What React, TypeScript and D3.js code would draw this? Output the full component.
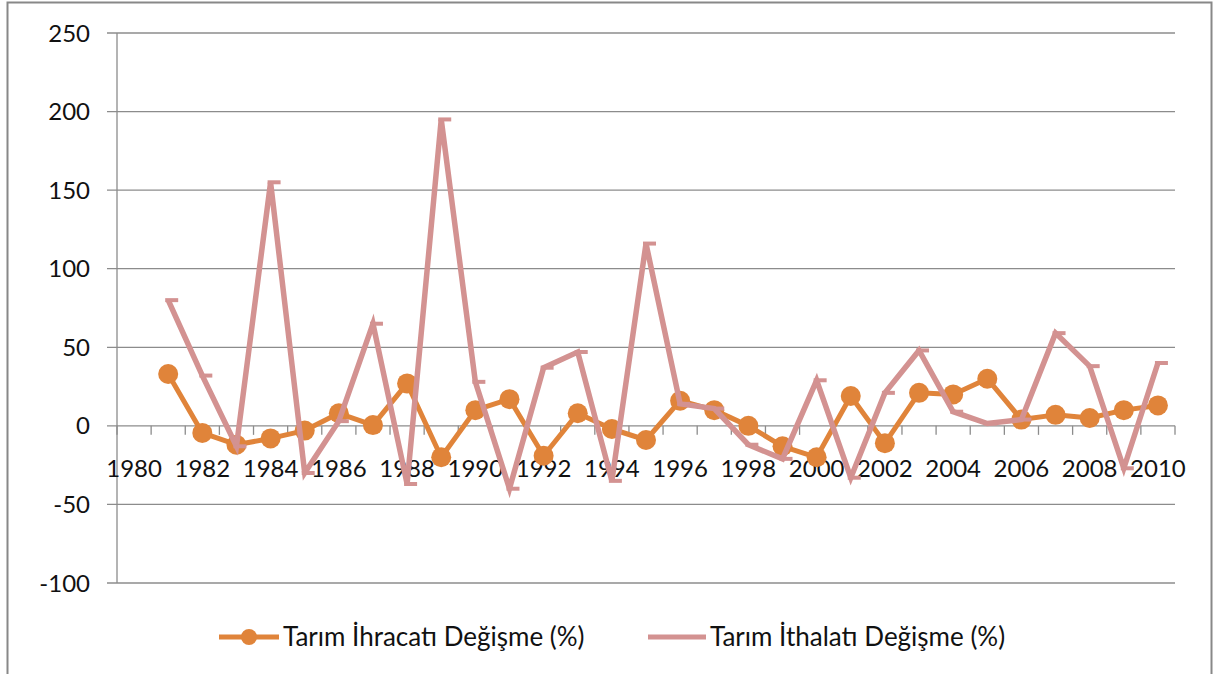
import React from 'react';
import * as d3 from 'd3';

// years on the category axis, 1980 has no values
const years = d3.range(1980, 2011).map(String);
const exportYears = years.slice(1);

const exportChange = [33, -4.5, -12, -8, -3, 8, 0.5, 27, -20, 10, 17, -19, 8, -2, -9, 16, 10, 0, -13, -20, 19, -11, 21, 20, 30, 4, 7, 5, 10, 13];
const importChange = [80, 32, -13, 155, -30, 3, 65, -37, 195, 28, -40, 37, 47, -35, 116, 14, 11, -12, -21, 29, -33, 21, 48, 9, 1.5, 4, 59, 38, -27, 40];

const yTicks = [-100, -50, 0, 50, 100, 150, 200, 250];
const seriesNames = ['Tarım İhracatı Değişme (%)', 'Tarım İthalatı Değişme (%)'];

const orange = '#E0843A';
const pink = '#D39291';
const grid = '#8C8C8C';
const font = 'Lato, "Open Sans", sans-serif';

export default function App() {
  const width = 1215;
  const height = 674;
  const left = 117, right = 1175, top = 33, bottom = 583;

  const x = d3.scaleBand().domain(years).range([left, right]);
  const y = d3.scaleLinear().domain([-100, 250]).range([bottom, top]);
  const cx = (yr: string) => (x(yr) as number) + x.bandwidth() / 2;

  const line = d3.line<number>()
    .x((_, i) => cx(exportYears[i]))
    .y(d => y(d));

  const boundaries = d3.range(years.length + 1).map(i => left + i * x.step());

  return (
    <svg width={width} height={height} style={{ position: 'absolute', left: 0, top: 0 }}>
      <rect x={7.5} y={2.5} width={1204} height={700} fill="white" stroke="#888" strokeWidth={2} />

      {yTicks.map(t => (
        <g key={t}>
          <line x1={left - 10} x2={right} y1={y(t)} y2={y(t)} stroke={grid} strokeWidth={1.3} />
          <text x={90} y={y(t)} dy="0.36em" textAnchor="end" fontFamily={font} fontSize={24} fill="#111">{t}</text>
        </g>
      ))}
      <line x1={left} x2={left} y1={top} y2={bottom} stroke={grid} strokeWidth={1.3} />

      {boundaries.map((b, i) => (
        <line key={i} x1={b} x2={b} y1={y(0)} y2={y(0) + 9} stroke={grid} strokeWidth={1.3} />
      ))}
      {years.filter((_, i) => i % 2 === 0).map(yr => (
        <text key={yr} x={cx(yr)} y={y(0) + 51} textAnchor="middle" fontFamily={font} fontSize={24} fill="#111">{yr}</text>
      ))}

      <path d={line(exportChange) || ''} fill="none" stroke={orange} strokeWidth={5} strokeLinejoin="round" />
      {exportChange.map((v, i) => (
        <circle key={i} cx={cx(exportYears[i])} cy={y(v)} r={10} fill={orange} />
      ))}

      <path d={line(importChange) || ''} fill="none" stroke={pink} strokeWidth={5.5} strokeLinejoin="miter" strokeMiterlimit={4} />
      {importChange.map((v, i) => (
        <line key={i} x1={cx(exportYears[i]) - 3} x2={cx(exportYears[i]) + 10} y1={y(v)} y2={y(v)} stroke={pink} strokeWidth={4} />
      ))}

      <g fontFamily={font} fontSize={26} fill="#111">
        <line x1={219} x2={279} y1={637} y2={637} stroke={orange} strokeWidth={5} />
        <circle cx={249} cy={637} r={8} fill={orange} />
        <text x={283} y={637} dy="0.36em">{seriesNames[0]}</text>
        <line x1={648} x2={706} y1={637} y2={637} stroke={pink} strokeWidth={5} />
        <text x={710} y={637} dy="0.36em">{seriesNames[1]}</text>
      </g>
    </svg>
  );
}
